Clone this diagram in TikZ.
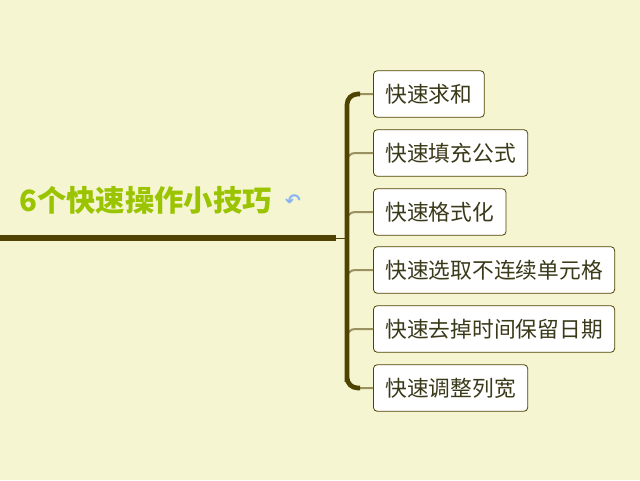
\documentclass[tikz,border=0pt]{standalone}
\usepackage{fontspec}
\newfontfamily\cjk{Noto Sans CJK SC}
\newfontfamily\djsans{DejaVu Sans}
\definecolor{bg}{HTML}{F5F5D2}
\definecolor{trunk}{HTML}{4E4300}
\definecolor{twig}{HTML}{9A9060}
\definecolor{ttl}{HTML}{9BC400}
\definecolor{txt}{HTML}{3A3A1A}
\definecolor{ico}{HTML}{8AB4F0}
\tikzset{leaf/.style={draw=trunk,fill=white,rounded corners=3pt,line width=0.6pt,minimum height=35pt,inner xsep=9pt,anchor=west,font=\cjk\fontsize{16.3}{18}\selectfont,text=txt},
twigline/.style={draw=twig,line width=1.5pt,rounded corners=6pt}}
\begin{document}
\begin{tikzpicture}[x=0.75pt,y=-0.75pt]
\fill[bg] (0,0) rectangle (640,480);
\useasboundingbox (0,0) rectangle (640,480);
\node[font=\cjk\bfseries\fontsize{22}{24}\selectfont,text=ttl,anchor=west,inner sep=0] (t) at (19,200) {6个快速操作小技巧};
\node[font=\djsans\bfseries\fontsize{14}{14}\selectfont,text=ico,inner sep=0] (ic) at (293,201) {↶};
\node[leaf] (b1) at (373,94) {快速求和};
\node[leaf] (b2) at (373,153) {快速填充公式};
\node[leaf] (b3) at (373,212) {快速格式化};
\node[leaf] (b4) at (373,270) {快速选取不连续单元格};
\node[leaf] (b5) at (373,329) {快速去掉时间保留日期};
\node[leaf] (b6) at (373,388) {快速调整列宽};
\foreach \b/\y in {b2/153,b3/212,b4/270,b5/329}{
  \draw[twigline] (347,\y+12) |- (\b.west);
}
\draw[twigline] (347,110) |- (b1.west);
\draw[twigline] (347,370) |- (b6.west);
\draw[trunk,line width=3.5pt,rounded corners=8pt] (360,94) -| (347,388) -- (347,388) |- (360,388);
\coordinate (hub) at (347,238);
\draw[trunk,line width=4pt] (0,238) -- (336,238);
\draw[trunk,line width=0.6pt] (336,238) -- (hub);
\end{tikzpicture}
\end{document}
